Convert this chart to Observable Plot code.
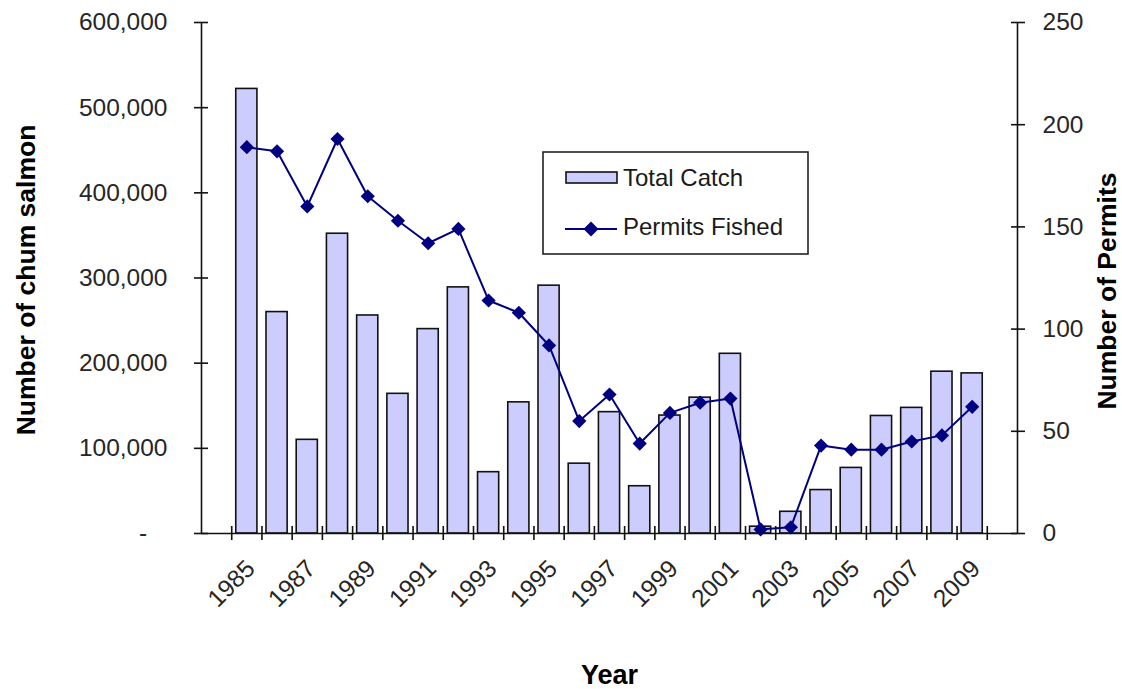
<!DOCTYPE html>
<html>
<head>
<meta charset="utf-8">
<script src="https://cdn.jsdelivr.net/npm/d3@7"></script>
<script src="https://cdn.jsdelivr.net/npm/@observablehq/plot@0.6"></script>
<style>
  html, body { margin: 0; padding: 0; background: #fff; }
  #wrap { position: relative; width: 1122px; height: 689px; font-family: Arial, "Liberation Sans", sans-serif; }
  #wrap svg { display: block; }
  g[aria-label="y-axis tick label"], g[aria-label="x-axis tick label"] { fill: #262626; }
  #legend { position: absolute; left: 542px; top: 151px; }
</style>
</head>
<body>
<div id="wrap"></div>
<script>
// ---- data ----
const years = [1985, 1986, 1987, 1988, 1989, 1990, 1991, 1992, 1993, 1994, 1995, 1996, 1997,
               1998, 1999, 2000, 2001, 2002, 2003, 2004, 2005, 2006, 2007, 2008, 2009];
const totalCatch = [522000, 260000, 110000, 352000, 256000, 164000, 240000, 289000, 72000, 154000,
                    291000, 82000, 142500, 55500, 138500, 159500, 211000, 8000, 25500, 51000,
                    77000, 138000, 147500, 190000, 188000];
const permitsFished = [189, 187, 160, 193, 165, 153, 142, 149, 114, 108, 92, 55, 68,
                       44, 59, 64, 66, 2, 3, 43, 41, 41, 45, 48, 62];
const leftTicks = [0, 100000, 200000, 300000, 400000, 500000, 600000];
const rightTicks = [0, 50, 100, 150, 200, 250];
const yearLabels = [1985, 1987, 1989, 1991, 1993, 1995, 1997, 1999, 2001, 2003, 2005, 2007, 2009];
const seriesNames = ["Total Catch", "Permits Fished"];
const titles = {x: "Year", yLeft: "Number of chum salmon", yRight: "Number of Permits"};

// ---- derived ----
const leftMax = 600000, rightMax = 250;
const permitScale = leftMax / rightMax;            // maps permits onto the catch axis
const xDomain = [years[0] - 1.5, years[years.length - 1] + 1.5]; // one empty slot each side
const boundaries = d3.range(years[0] - 0.5, years[years.length - 1] + 1, 1);
const barHalf = 0.35;
const data = years.map((year, i) => ({year, catch: totalCatch[i], permits: permitsFished[i]}));

const barFill = "#ccccff", lineColor = "#000080";
const fmtLeft = d => d === 0 ? "-\u00a0\u00a0\u00a0" : d3.format(",")(d);

const chart = Plot.plot({
  width: 1122,
  height: 689,
  marginLeft: 201,
  marginRight: 105,
  marginTop: 22,
  marginBottom: 156,
  style: {fontFamily: "Arial, 'Liberation Sans', sans-serif", fontSize: "24.5px", background: "#fff", color: "#000"},
  x: {type: "linear", domain: xDomain},
  y: {domain: [0, leftMax]},
  marks: [
    Plot.rectY(data, {x1: d => d.year - barHalf, x2: d => d.year + barHalf, y: "catch",
                      fill: barFill, stroke: "#111", strokeWidth: 1.6}),
    Plot.line(data, {x: "year", y: d => d.permits * permitScale, stroke: lineColor, strokeWidth: 2}),
    Plot.dot(data, {x: "year", y: d => d.permits * permitScale, symbol: "diamond2", r: 6.4, fill: lineColor, stroke: null}),
    // axis lines
    Plot.ruleX(xDomain, {stroke: "#111", strokeWidth: 1.6}),
    Plot.ruleY([0], {stroke: "#111", strokeWidth: 1.6}),
    // left axis
    Plot.axisY({anchor: "left", ticks: leftTicks, tickSize: 14, dx: 7, fill: "none", stroke: "#111", strokeWidth: 1.6, label: null}),
    Plot.axisY({anchor: "left", ticks: leftTicks, tickSize: 0, tickPadding: 34, tickFormat: fmtLeft, label: null}),
    // right axis
    Plot.axisY({anchor: "right", ticks: rightTicks.map(v => v * permitScale), tickSize: 14, dx: -7, fill: "none", stroke: "#111", strokeWidth: 1.6, label: null}),
    Plot.axisY({anchor: "right", ticks: rightTicks.map(v => v * permitScale), tickSize: 0, tickPadding: 25, tickFormat: v => String(Math.round(v / permitScale)), label: null}),
    // x axis
    Plot.axisX({ticks: boundaries, tickSize: 14, dy: -7, fill: "none", stroke: "#111", strokeWidth: 1.6, label: null}),
    Plot.axisX({ticks: yearLabels, tickSize: 0, tickPadding: 31, tickRotate: -45, dx: 4, tickFormat: d => String(d), label: null}),
    // titles
    Plot.text([titles.yLeft], {frameAnchor: "left", textAnchor: "middle", rotate: -90, dx: -175, dy: 2, fontWeight: "bold", fontSize: 26.5, fill: "#000"}),
    Plot.text([titles.yRight], {frameAnchor: "right", textAnchor: "middle", rotate: -90, dx: 90, dy: 13, fontWeight: "bold", fontSize: 26.5, fill: "#000"}),
    Plot.text([titles.x], {frameAnchor: "bottom", textAnchor: "middle", lineAnchor: "bottom", dy: 150, fontWeight: "bold", fontSize: 27, fill: "#000"})
  ]
});
const wrap = document.getElementById("wrap");
wrap.appendChild(chart);

// ---- legend (inside plot area) ----
const ns = "http://www.w3.org/2000/svg";
const leg = document.createElementNS(ns, "svg");
leg.setAttribute("id", "legend");
leg.setAttribute("width", 268);
leg.setAttribute("height", 105);
leg.setAttribute("font-family", "Arial, 'Liberation Sans', sans-serif");
leg.innerHTML = `
  <rect x="1" y="1" width="265" height="102" fill="#fff" stroke="#222" stroke-width="1.6"/>
  <rect x="24" y="21" width="51" height="11" fill="${barFill}" stroke="#111" stroke-width="1.6"/>
  <text x="81" y="26" dominant-baseline="central" font-size="24" fill="#1a1a1a">${seriesNames[0]}</text>
  <line x1="23" x2="75" y1="78" y2="78" stroke="${lineColor}" stroke-width="2"/>
  <path d="M49,70.5 L56.5,78 L49,85.5 L41.5,78 Z" fill="${lineColor}"/>
  <text x="81" y="75" dominant-baseline="central" font-size="24" fill="#1a1a1a">${seriesNames[1]}</text>
`;
wrap.appendChild(leg);
</script>
</body>
</html>
